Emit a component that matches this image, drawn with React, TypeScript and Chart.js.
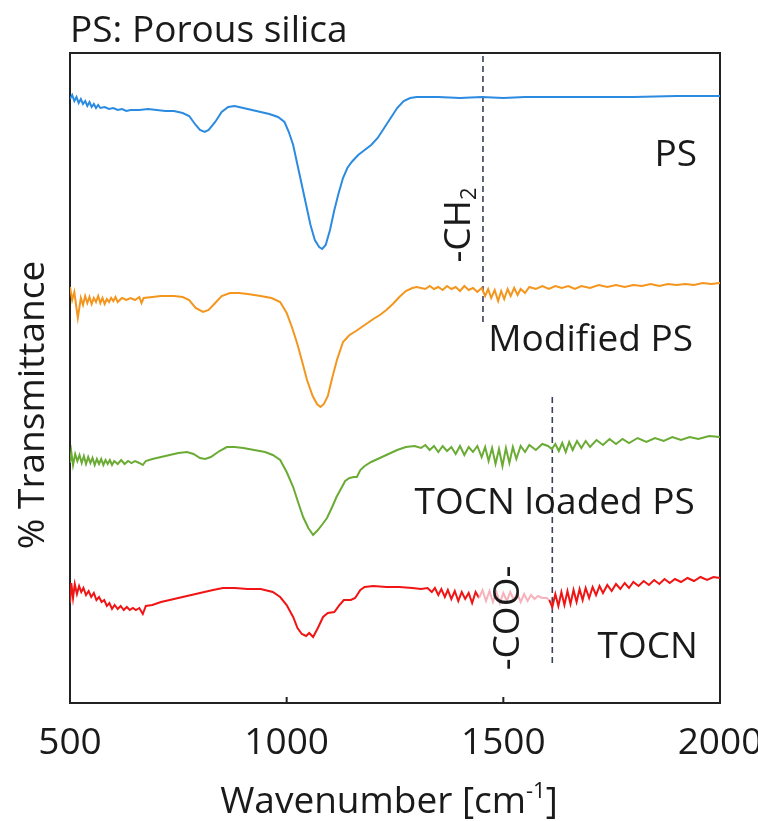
import React, { useEffect, useRef } from "react";
import { Chart, registerables } from "chart.js";
Chart.register(...registerables);

// ---- axis ----
const xTicks = [500, 1000, 1500, 2000];
const xMin = 500;
const xMax = 2000;
const yMin = 0;
const yMax = 650;

// ---- PS (blue) ----
const psWn = [500,505,510,515,520,525,530,535,540,545,550,555,560,565,570,580,590,600,610,620,630,640,660,680,700,720,740,760,775,790,800,811,820,835,850,865,880,900,920,940,960,980,995,1005,1015,1025,1035,1045,1055,1065,1075,1082,1090,1100,1110,1120,1130,1140,1150,1165,1180,1195,1210,1225,1240,1255,1270,1285,1300,1350,1400,1450,1500,1550,1600,1650,1700,1800,1900,2000];
const psT = [604,608,602,606,600,604,599,602,597,601,596,599,595,598,595,596,594,595,593,594,592,593,593,594,593,592,592,590,587,578,573,571,573,581,591,596,597,595,593,591,589,586,581,571,558,538,518,498,478,463,456,454,458,473,493,510,525,535,541,548,553,558,565,575,585,595,602,605,606,606,605,606,605,606,606,606,606,606,607,607];

// ---- Modified PS (orange) ----
const modWn = [500,505,510,518,525,530,535,540,545,550,555,560,565,570,575,580,585,590,595,600,605,610,620,630,640,650,660,665,670,690,710,740,760,775,790,807,820,835,850,869,890,910,940,965,985,1000,1012,1024,1036,1047,1060,1070,1078,1086,1095,1105,1116,1130,1145,1160,1180,1200,1215,1230,1245,1260,1275,1290,1300,1320,1330,1340,1350,1360,1370,1380,1390,1400,1410,1420,1430,1440,1450,1458,1465,1472,1480,1488,1495,1502,1510,1517,1525,1533,1540,1550,1560,1575,1590,1605,1620,1635,1650,1665,1680,1700,1720,1740,1760,1780,1800,1820,1840,1860,1880,1900,1920,1940,1960,1980,2000];
const modT = [416,403,411,385,405,398,407,400,406,399,405,401,407,400,405,399,404,401,405,402,406,401,405,403,405,403,406,400,405,406,407,407,406,403,395,391,393,400,407,410,410,409,407,405,401,390,376,360,341,323,307,299,296,299,307,325,343,361,368,372,378,384,388,393,399,406,412,415,416,414,417,414,416,413,417,414,416,412,417,413,415,411,415,407,414,405,413,402,412,404,414,407,415,408,414,410,416,414,417,414,417,415,417,414,417,415,418,416,418,416,418,417,419,417,419,418,419,418,420,419,420];

// ---- TOCN loaded PS (green) ----
const loadWn = [500,503,507,512,517,522,527,532,537,542,547,552,557,562,567,572,577,582,587,592,597,602,610,618,626,634,642,650,660,668,675,690,710,730,750,770,785,800,812,825,845,862,880,900,925,950,968,985,1000,1015,1027,1038,1050,1061,1072,1083,1093,1105,1115,1125,1135,1145,1155,1162,1170,1180,1195,1215,1235,1255,1275,1295,1310,1320,1330,1340,1350,1360,1370,1380,1390,1400,1410,1420,1430,1440,1450,1458,1466,1474,1482,1490,1498,1506,1514,1522,1530,1540,1550,1560,1575,1590,1603,1612,1620,1628,1636,1644,1652,1660,1670,1680,1690,1700,1715,1730,1745,1760,1775,1790,1810,1830,1850,1870,1890,1910,1930,1950,1975,2000];
const loadT = [240,251,238,249,242,248,240,247,239,246,240,245,238,244,239,244,238,243,239,243,238,242,239,243,239,242,240,242,240,238,242,244,246,248,250,251,249,245,244,246,252,256,256,255,253,251,248,243,231,216,200,186,175,168,173,179,185,196,206,214,222,225,226,226,233,237,241,245,249,253,256,257,255,258,253,257,251,257,252,256,249,257,248,256,251,257,246,256,242,255,239,254,237,255,240,256,244,257,251,258,253,259,257,254,259,252,260,251,261,253,262,255,262,256,263,258,264,259,264,260,265,261,265,262,266,263,266,264,267,266];

// ---- TOCN (red) ----
const tocnWn = [500,503,507,511,516,521,526,531,537,543,549,555,561,567,573,579,585,591,597,603,610,617,624,631,638,645,652,660,668,675,690,710,730,750,770,790,810,830,853,880,910,940,968,985,1000,1015,1025,1035,1045,1052,1061,1072,1084,1095,1110,1122,1132,1148,1158,1170,1180,1200,1230,1260,1290,1310,1325,1335,1342,1350,1357,1365,1372,1380,1388,1396,1404,1412,1420,1428,1436,1444,1452,1460,1468,1476,1484,1492,1500,1508,1516,1524,1532,1540,1548,1556,1564,1572,1580,1590,1600,1606,1613,1620,1627,1634,1641,1648,1655,1662,1669,1676,1683,1690,1698,1706,1714,1722,1730,1740,1750,1760,1770,1780,1790,1800,1812,1824,1836,1848,1860,1872,1884,1896,1910,1925,1940,1955,1970,1985,2000];
const tocnT = [100,120,105,119,109,117,111,115,108,112,106,110,103,106,101,103,97,100,94,98,94,97,93,96,93,95,93,95,89,97,98,101,103,105,107,109,111,113,115,115,114,114,111,106,98,86,75,69,67,70,66,75,86,90,91,98,103,103,105,113,116,117,116,116,115,114,115,111,115,108,114,106,113,104,112,102,111,104,110,100,111,105,113,102,112,101,111,100,110,102,111,103,110,101,109,102,108,104,107,105,105,103,96,109,97,111,98,112,99,113,101,114,103,115,105,116,108,117,110,118,112,119,114,120,115,121,117,122,118,123,119,124,120,124,121,125,122,126,123,126,125];

// faded (pink) stretch of the TOCN trace
const fadeFrom = 1444;
const fadeTo = 1606;

// ---- annotations ----
const seriesNames = ["PS", "Modified PS", "TOCN loaded PS", "TOCN"];
const nameWn = [1947, 1938, 1942, 1949];
const nameT = [548, 363, 200, 56];
const ch2Wn = 1453;
const ch2Span = [647, 378];
const cooWn = 1613;
const cooSpan = [306, 38];
const ch2LabelPos = [1393, 478];
const cooLabelPos = [1512, 85];

const COLORS = {
  ps: "#2b8be0",
  mod: "#f4961e",
  load: "#6aab34",
  tocn: "#f01414",
  fade: "#f6b3bb",
  dash: "#3b4258",
  text: "#1a1a1a",
};
const FONT = "'Open Sans', 'Noto Sans', sans-serif";
const FS = 37;

function pts(xs: number[], ys: number[]) {
  return xs.map((x, i) => ({ x, y: ys[i] }));
}

const overlay = {
  id: "overlay",
  beforeDatasetsDraw(chart: any) {
    const { ctx, chartArea: a, scales } = chart;
    const x = scales.x;
    ctx.save();
    ctx.strokeStyle = "#222";
    ctx.lineWidth = 2;
    ctx.strokeRect(a.left, a.top, a.right - a.left, a.bottom - a.top);
    for (const t of xTicks) {
      const px = x.getPixelForValue(t);
      if (px > a.left + 2 && px < a.right - 2) {
        ctx.beginPath();
        ctx.moveTo(px, a.bottom);
        ctx.lineTo(px, a.bottom - 6);
        ctx.stroke();
      }
    }
    ctx.restore();
  },
  afterDraw(chart: any) {
    const { ctx, chartArea: a, scales } = chart;
    const x = scales.x;
    const y = scales.y;
    ctx.save();
    ctx.fillStyle = COLORS.text;
    ctx.font = `${FS}px ${FONT}`;
    // title
    ctx.textAlign = "left";
    ctx.textBaseline = "alphabetic";
    ctx.fillText("PS: Porous silica", a.left, a.top - 11);
    // series names
    ctx.textAlign = "right";
    ctx.textBaseline = "middle";
    seriesNames.forEach((n, i) => {
      ctx.fillText(n, x.getPixelForValue(nameWn[i]), y.getPixelForValue(nameT[i]));
    });
    // y title
    ctx.save();
    ctx.translate(33, (a.top + a.bottom) / 2 + 27);
    ctx.rotate(-Math.PI / 2);
    ctx.textAlign = "center";
    ctx.textBaseline = "middle";
    ctx.fillText("% Transmittance", 0, 0);
    ctx.restore();
    // x title with superscript
    {
      const main = "Wavenumber [cm";
      const sup = "-1";
      const end = "]";
      const small = `${Math.round(FS * 0.6)}px ${FONT}`;
      const big = `${FS}px ${FONT}`;
      ctx.font = big;
      const w1 = ctx.measureText(main).width;
      const w3 = ctx.measureText(end).width;
      ctx.font = small;
      const w2 = ctx.measureText(sup).width;
      const total = w1 + w2 + w3;
      const cx = (a.left + a.right) / 2 - 6;
      let sx = cx - total / 2;
      const by = 813;
      ctx.textAlign = "left";
      ctx.textBaseline = "alphabetic";
      ctx.font = big;
      ctx.fillText(main, sx, by);
      sx += w1;
      ctx.font = small;
      ctx.fillText(sup, sx, by - 15);
      sx += w2;
      ctx.font = big;
      ctx.fillText(end, sx, by);
    }
    // -CH2 label (rotated)
    {
      ctx.save();
      ctx.translate(x.getPixelForValue(ch2LabelPos[0]), y.getPixelForValue(ch2LabelPos[1]));
      ctx.rotate(-Math.PI / 2);
      const big = `${FS}px ${FONT}`;
      const small = `${Math.round(FS * 0.6)}px ${FONT}`;
      ctx.font = big;
      const w1 = ctx.measureText("-CH").width;
      ctx.font = small;
      const w2 = ctx.measureText("2").width;
      const sx = -(w1 + w2) / 2;
      ctx.textAlign = "left";
      ctx.textBaseline = "alphabetic";
      ctx.font = big;
      ctx.fillText("-CH", sx, 13);
      ctx.font = small;
      ctx.fillText("2", sx + w1, 19);
      ctx.restore();
    }
    // -COO- label (rotated)
    {
      ctx.save();
      ctx.translate(x.getPixelForValue(cooLabelPos[0]), y.getPixelForValue(cooLabelPos[1]));
      ctx.rotate(-Math.PI / 2);
      ctx.font = `${FS}px ${FONT}`;
      ctx.textAlign = "center";
      ctx.textBaseline = "middle";
      ctx.fillText("-COO-", 0, 0);
      ctx.restore();
    }
    ctx.restore();
  },
};

export default function App() {
  const ref = useRef<HTMLCanvasElement | null>(null);
  useEffect(() => {
    if (!ref.current) return;
    const line = (data: any, color: string, extra: any = {}) => ({
      data,
      borderColor: color,
      borderWidth: 2,
      pointRadius: 0,
      tension: 0,
      fill: false,
      ...extra,
    });
    const chart = new Chart(ref.current, {
      type: "line",
      data: {
        datasets: [
          line(pts(psWn, psT), COLORS.ps),
          line(pts(modWn, modT), COLORS.mod),
          line(pts(loadWn, loadT), COLORS.load),
          line(pts(tocnWn, tocnT), COLORS.tocn, {
            segment: {
              borderColor: (c: any) =>
                c.p0.parsed.x >= fadeFrom && c.p1.parsed.x <= fadeTo ? COLORS.fade : COLORS.tocn,
            },
          }),
          line(pts([ch2Wn, ch2Wn], ch2Span), COLORS.dash, { borderWidth: 1.6, borderDash: [6, 4] }),
          line(pts([cooWn, cooWn], cooSpan), COLORS.dash, { borderWidth: 1.6, borderDash: [6, 4] }),
        ],
      },
      options: {
        animation: false,
        responsive: false,
        devicePixelRatio: 1,
        layout: { padding: { left: 70, top: 53, right: 38, bottom: 0 } },
        plugins: { legend: { display: false }, tooltip: { enabled: false } },
        scales: {
          x: {
            type: "linear",
            min: xMin,
            max: xMax,
            grid: { display: false, drawTicks: false },
            border: { display: false },
            afterBuildTicks: (s: any) => {
              s.ticks = xTicks.map((v) => ({ value: v }));
            },
            afterFit: (s: any) => {
              s.height = 118;
              s.paddingLeft = 0;
              s.paddingRight = 0;
            },
            ticks: {
              autoSkip: false,
              maxRotation: 0,
              padding: 18,
              color: COLORS.text,
              font: { family: FONT, size: FS },
              callback: (v: any) => String(v),
            },
          },
          y: {
            type: "linear",
            display: false,
            min: yMin,
            max: yMax,
          },
        },
      },
      plugins: [overlay],
    });
    return () => chart.destroy();
  }, []);
  return (
    <div style={{ position: "absolute", left: 0, top: 0, width: 758, height: 821, background: "#fff" }}>
      <canvas ref={ref} width={758} height={821} style={{ display: "block" }} />
    </div>
  );
}
